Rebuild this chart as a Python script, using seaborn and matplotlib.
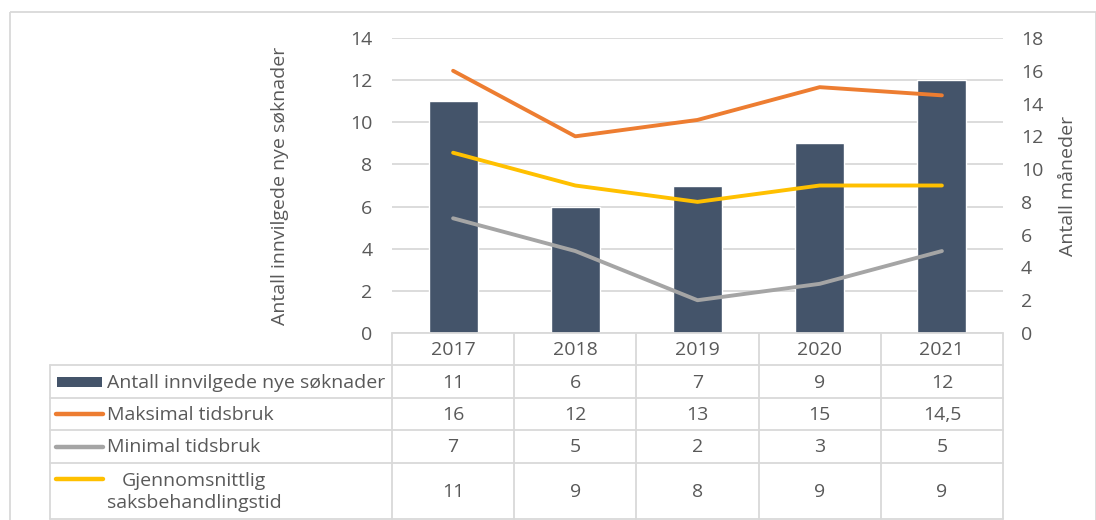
import numpy as np
import pandas as pd
import matplotlib
matplotlib.use("Agg")
import matplotlib.pyplot as plt
import seaborn as sns
from matplotlib.lines import Line2D
from matplotlib.patches import Rectangle

# ---- data ----
years = ["2017", "2018", "2019", "2020", "2021"]
innvilgede = [11, 6, 7, 9, 12]
maks_tid = [16, 12, 13, 15, 14.5]
min_tid = [7, 5, 2, 3, 5]
snitt_tid = [11, 9, 8, 9, 9]

series_names = ["Antall innvilgede nye søknader", "Maksimal tidsbruk",
                "Minimal tidsbruk", "Gjennomsnittlig\nsaksbehandlingstid"]
left_label = "Antall innvilgede nye søknader"
right_label = "Antall måneder"
left_ticks = [0, 2, 4, 6, 8, 10, 12, 14]
right_ticks = [0, 2, 4, 6, 8, 10, 12, 14, 16, 18]

# ---- style ----
sns.set_theme(style="white")
plt.rcParams['font.family'] = ['Open Sans', 'DejaVu Sans']
TXT = "#595959"
GRID = "#D9D9D9"
C_BAR = "#44546A"
C_MAX = "#ED7D31"
C_MIN = "#A5A5A5"
C_AVG = "#FFC000"
FS = 14

W, H = 1096, 520
fig = plt.figure(figsize=(W / 100, H / 100), dpi=100)
fig.patch.set_facecolor("white")

def fx(px):
    return px / W

def fy(py):
    return 1 - py / H

x0, x1, ytop, ybot = 392, 1003, 38, 333
ax = fig.add_axes([fx(x0), fy(ybot), fx(x1) - fx(x0), fy(ytop) - fy(ybot)])

df_bar = pd.DataFrame({"year": years, "val": innvilgede})
sns.barplot(data=df_bar, x="year", y="val", color=C_BAR, width=0.4,
            saturation=1, ax=ax, zorder=3)
ax.set_xlim(-0.5, len(years) - 0.5)
ax.set_ylim(0, 14)
ax.set_yticks(left_ticks)
ax.set_yticklabels([str(t) for t in left_ticks], color=TXT, fontsize=FS)
ax.yaxis.grid(True, color=GRID, linewidth=1.3, zorder=0)
ax.set_axisbelow(True)
ax.tick_params(axis="y", length=0, pad=14)
ax.tick_params(axis="x", length=0, labelbottom=False)
ax.set_xlabel("")
ax.set_ylabel(left_label, color=TXT, fontsize=FS)
ax.yaxis.label.set_va("center")
ax.yaxis.set_label_coords((280 - x0) / (x1 - x0), 0.5)
for s in ax.spines.values():
    s.set_visible(False)

ax2 = ax.twinx()
xpos = np.arange(len(years))
for vals, col in [(maks_tid, C_MAX), (min_tid, C_MIN), (snitt_tid, C_AVG)]:
    sns.lineplot(x=xpos, y=vals, color=col, linewidth=2.8, ax=ax2, zorder=4)
ax2.set_ylim(0, 18)
ax2.set_yticks(right_ticks)
ax2.set_yticklabels([str(t) for t in right_ticks], color=TXT, fontsize=FS)
ax2.tick_params(axis="y", length=0, pad=13)
ax2.set_ylabel(right_label, color=TXT, fontsize=FS)
ax2.yaxis.label.set_va("center")
ax2.yaxis.set_label_coords((1068 - x0) / (x1 - x0), 0.5)
ax2.grid(False)
for s in ax2.spines.values():
    s.set_visible(False)
ax.set_xlim(-0.5, len(years) - 0.5)

# ---- data table (overlay in pixel coordinates) ----
ov = fig.add_axes([0, 0, 1, 1], zorder=5)
ov.set_xlim(0, W)
ov.set_ylim(H, 0)
ov.axis("off")
ov.patch.set_alpha(0)

# outer chart border
ov.add_patch(Rectangle((10, 12), W - 10, H, fill=False, edgecolor=GRID, linewidth=1.3))

col_w = (x1 - x0) / len(years)
col_edges = [x0 + i * col_w for i in range(len(years) + 1)]
row_edges = [333, 365, 398, 430, 463, 519]
tab_left = 50
lw = 1.3

ov.add_line(Line2D([x0, x1], [row_edges[0], row_edges[0]], color=GRID, lw=lw))
for r in row_edges[1:]:
    ov.add_line(Line2D([tab_left, x1], [r, r], color=GRID, lw=lw))
for c in col_edges:
    ov.add_line(Line2D([c, c], [row_edges[0], row_edges[-1]], color=GRID, lw=lw))
ov.add_line(Line2D([tab_left, tab_left], [row_edges[1], row_edges[-1]], color=GRID, lw=lw))

for i, y in enumerate(years):
    ov.text(x0 + (i + 0.5) * col_w, (row_edges[0] + row_edges[1]) / 2 + 1, y,
            ha="center", va="center", color=TXT, fontsize=FS)

def fmt(v):
    if float(v).is_integer():
        return str(int(v))
    return str(v).replace(".", ",")

all_series = [innvilgede, maks_tid, min_tid, snitt_tid]
colors = [C_BAR, C_MAX, C_MIN, C_AVG]
for r, (name, vals, col) in enumerate(zip(series_names, all_series, colors)):
    ya, yb = row_edges[r + 1], row_edges[r + 2]
    yc = (ya + yb) / 2
    for i, v in enumerate(vals):
        ov.text(x0 + (i + 0.5) * col_w, yc + 1, fmt(v), ha="center", va="center",
                color=TXT, fontsize=FS)
    if r == 0:
        ov.add_patch(Rectangle((57, yc - 5), 45, 10, color=col, lw=0))
    else:
        ky = yc if r < 3 else yc - 12
        ov.add_line(Line2D([56, 103], [ky, ky], color=col, lw=3.2,
                           solid_capstyle="round"))
    if r < 3:
        ov.text(107, yc + 1, name, ha="left", va="center", color=TXT, fontsize=FS)
    else:
        ov.text(194, yc + 1, name, ha="center", va="center", color=TXT,
                fontsize=FS, linespacing=1.3)

fig.savefig("out.png", dpi=100, facecolor="white")
